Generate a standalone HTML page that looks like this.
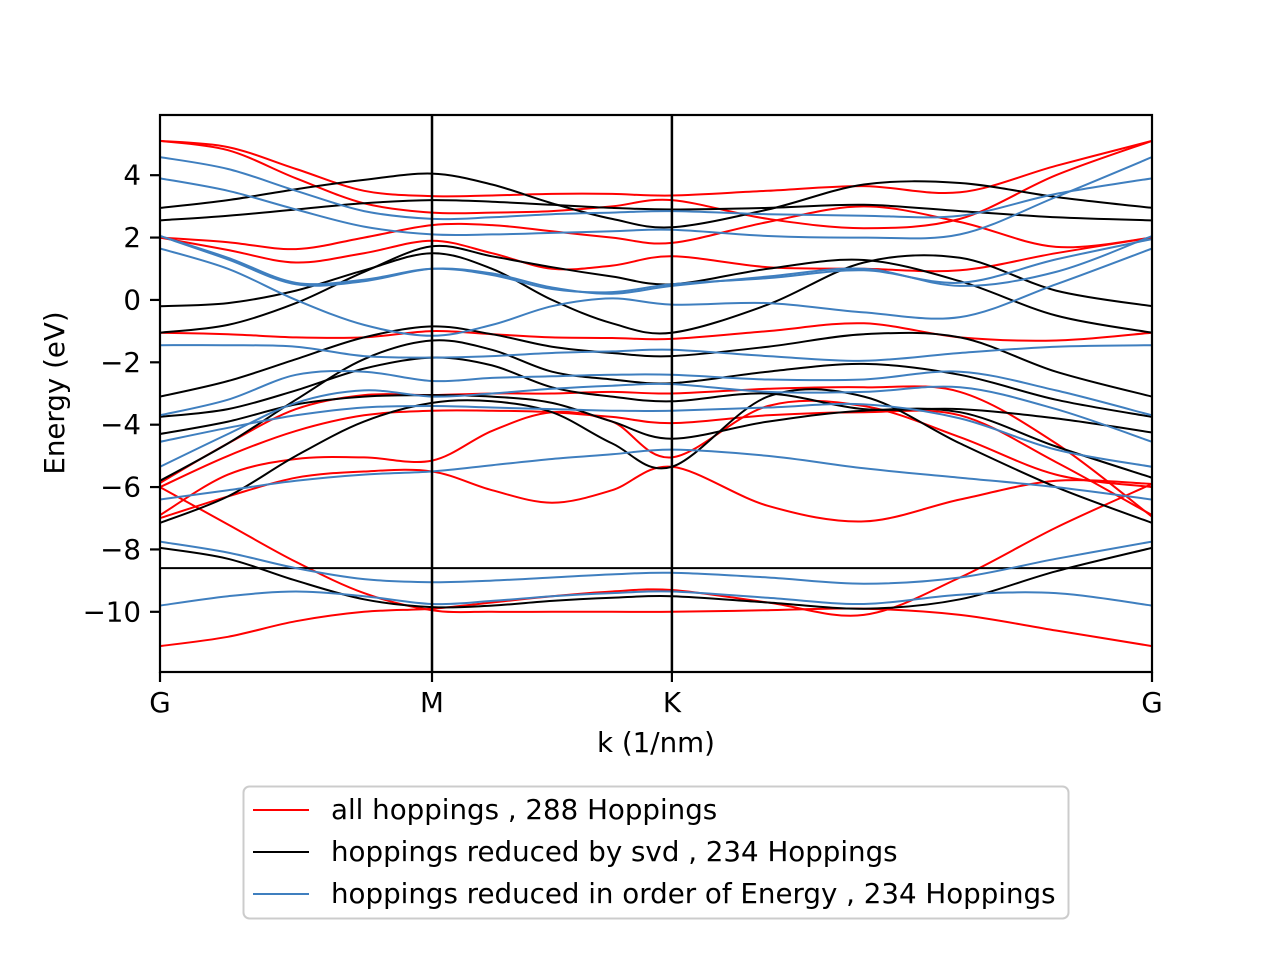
<!DOCTYPE html>
<html><head><meta charset="utf-8"><style>
html,body{margin:0;padding:0;background:#fff;}
svg{display:block;font-family:"DejaVu Sans","Liberation Sans",sans-serif;}
</style></head><body>
<svg id="chart" width="1280" height="960" viewBox="0 0 1280 960" xmlns="http://www.w3.org/2000/svg">
<rect width="1280" height="960" fill="#fff"/>
<g id="bands"></g>
<g id="axes"></g>
<g id="legend">
<rect x="243.5" y="786.5" width="825" height="132" rx="6" fill="#fff" fill-opacity="0.8" stroke="#cccccc" stroke-width="2"/>
<line x1="253" y1="810" x2="309" y2="810" stroke="#ff0000" stroke-width="2"/>
<text x="331" y="819" font-size="27.7" fill="#000">all hoppings , 288 Hoppings</text>
<line x1="253" y1="852" x2="309" y2="852" stroke="#000" stroke-width="2"/>
<text x="331" y="861" font-size="27.7" fill="#000">hoppings reduced by svd , 234 Hoppings</text>
<line x1="253" y1="894" x2="309" y2="894" stroke="#3f7fbf" stroke-width="2"/>
<text x="331" y="903" font-size="27.7" fill="#000">hoppings reduced in order of Energy , 234 Hoppings</text>
</g>
</svg>
<script>
// k sample points along path (G-M = 1 unit)
var kSamples = [0,0.25,0.5,0.75,1,1.2206,1.441,1.662,1.882,2.235,2.588,2.941,3.294,3.647];
var kTickPos = [0,1,1.882,3.647];
var kTickLabels = ["G","M","K","G"];
var eTicks = [4,2,0,-2,-4,-6,-8,-10];
var eTickLabels = ["4","2","0","\u22122","\u22124","\u22126","\u22128","\u221210"];

var redBands = [
[5.1,4.9,4.2,3.5,3.33,3.35,3.4,3.4,3.35,3.5,3.65,3.45,4.3,5.1],
[5.1,4.8,3.9,3.1,2.8,2.8,2.85,3.0,3.2,2.6,2.3,2.6,4.0,5.1],
[2.0,1.85,1.63,2.0,2.4,2.4,2.2,2.0,1.83,2.5,3.0,2.5,1.7,2.0],
[2.0,1.6,1.2,1.5,1.9,1.5,1.0,1.1,1.4,1.05,1.0,0.95,1.5,2.0],
[-1.05,-1.1,-1.2,-1.2,-1.0,-1.1,-1.2,-1.22,-1.25,-1.0,-0.75,-1.2,-1.3,-1.05],
[-5.87,-4.6,-3.5,-3.05,-3.05,-3.0,-3.0,-2.95,-3.0,-2.85,-2.8,-2.95,-4.6,-6.95],
[-6.0,-5.0,-4.2,-3.7,-3.55,-3.55,-3.6,-3.75,-3.95,-3.7,-3.6,-3.7,-5.2,-6.9],
[-6.9,-5.6,-5.1,-5.05,-5.15,-4.2,-3.6,-3.9,-5.05,-3.4,-3.4,-4.4,-5.6,-6.0],
[-7.0,-6.3,-5.7,-5.5,-5.5,-6.1,-6.5,-6.1,-5.35,-6.6,-7.1,-6.4,-5.8,-5.9],
[-6.0,-7.2,-8.4,-9.4,-9.95,-10.0,-10.0,-10.0,-10.0,-9.95,-9.9,-10.1,-10.6,-11.1],
[-11.1,-10.8,-10.3,-10.0,-9.9,-9.7,-9.5,-9.35,-9.3,-9.7,-10.1,-8.9,-7.3,-5.9]
];
var blackBands = [
[2.95,3.2,3.55,3.85,4.05,3.7,3.1,2.6,2.33,2.9,3.7,3.75,3.3,2.95],
[2.55,2.7,2.9,3.1,3.2,3.15,3.05,2.95,2.9,2.95,3.05,2.85,2.65,2.55],
[-0.2,-0.1,0.3,0.95,1.5,1.0,0.0,-0.75,-1.05,-0.15,1.2,1.35,0.3,-0.2],
[-1.05,-0.8,-0.1,0.9,1.72,1.4,1.05,0.75,0.5,1.0,1.28,0.6,-0.5,-1.05],
[-3.1,-2.6,-1.9,-1.2,-0.85,-1.1,-1.5,-1.7,-1.8,-1.5,-1.1,-1.2,-2.3,-3.1],
[-3.75,-3.5,-2.9,-2.2,-1.85,-2.1,-2.8,-3.1,-3.25,-3.0,-3.5,-3.5,-3.8,-4.25],
[-5.8,-4.6,-3.2,-1.9,-1.3,-1.6,-2.3,-2.55,-2.67,-2.3,-2.05,-2.4,-3.2,-3.75],
[-4.3,-3.9,-3.35,-3.1,-3.05,-3.1,-3.3,-3.9,-4.45,-3.9,-3.55,-3.6,-4.7,-5.7],
[-7.15,-6.3,-5.0,-3.9,-3.3,-3.25,-3.6,-4.6,-5.35,-3.1,-3.1,-4.6,-6.0,-7.15],
[-8.6,-8.6,-8.6,-8.6,-8.6,-8.6,-8.6,-8.6,-8.6,-8.6,-8.6,-8.6,-8.6,-8.6],
[-7.95,-8.3,-9.0,-9.6,-9.85,-9.8,-9.65,-9.55,-9.5,-9.7,-9.9,-9.6,-8.7,-7.95]
];
var blueBands = [
[4.58,4.2,3.5,2.85,2.6,2.65,2.75,2.8,2.85,2.75,2.7,2.7,3.4,3.9],
[3.9,3.5,2.9,2.35,2.1,2.1,2.15,2.2,2.25,2.05,2.0,2.1,3.3,4.58],
[2.05,1.3,0.5,0.6,1.0,0.85,0.4,0.2,0.45,0.75,1.0,0.45,0.9,2.05],
[2.05,1.35,0.55,0.65,1.0,0.8,0.35,0.25,0.5,0.7,0.95,0.55,1.3,1.95],
[1.65,1.0,0.0,-0.8,-1.15,-0.8,-0.2,0.05,-0.15,-0.1,-0.4,-0.55,0.5,1.65],
[-1.45,-1.45,-1.5,-1.8,-1.85,-1.8,-1.7,-1.65,-1.6,-1.8,-1.95,-1.7,-1.5,-1.45],
[-3.7,-3.2,-2.4,-2.3,-2.6,-2.5,-2.45,-2.4,-2.4,-2.55,-2.55,-2.3,-2.9,-3.7],
[-4.55,-4.1,-3.7,-3.45,-3.4,-3.45,-3.5,-3.55,-3.55,-3.45,-3.35,-3.8,-4.8,-5.35],
[-5.35,-4.3,-3.3,-2.9,-3.1,-3.0,-2.85,-2.75,-2.7,-2.95,-2.95,-2.8,-3.5,-4.55],
[-6.4,-6.1,-5.8,-5.6,-5.5,-5.3,-5.1,-4.95,-4.8,-5.0,-5.4,-5.7,-6.0,-6.4],
[-7.75,-8.1,-8.6,-8.95,-9.05,-9.0,-8.9,-8.8,-8.75,-8.9,-9.1,-8.9,-8.3,-7.75],
[-9.8,-9.5,-9.35,-9.5,-9.75,-9.65,-9.5,-9.4,-9.35,-9.55,-9.75,-9.45,-9.4,-9.8]
];

var X0=160,X1=1152,Y0=115,Y1=672,KMAX=3.647,EMIN=-11.93,EMAX=5.93;
function xs(k){return X0+(k/KMAX)*(X1-X0);}
function ys(e){return Y1-(e-EMIN)/(EMAX-EMIN)*(Y1-Y0);}
var NS="http://www.w3.org/2000/svg";
function mk(tag,attrs,parent){var el=document.createElementNS(NS,tag);for(var a in attrs)el.setAttribute(a,attrs[a]);parent.appendChild(el);return el;}

function pathFor(vals){
  var p=vals.map(function(v,i){return [xs(kSamples[i]),ys(v)];});
  var d="M"+p[0][0].toFixed(1)+","+p[0][1].toFixed(1);
  for(var i=0;i<p.length-1;i++){
    var p0=p[i>0?i-1:i],p1=p[i],p2=p[i+1],p3=p[i+2<p.length?i+2:i+1];
    var t=0.5/3*2;
    var c1x=p1[0]+(p2[0]-p0[0])*t/2,c1y=p1[1]+(p2[1]-p0[1])*t/2;
    var c2x=p2[0]-(p3[0]-p1[0])*t/2,c2y=p2[1]-(p3[1]-p1[1])*t/2;
    d+=" C"+c1x.toFixed(1)+","+c1y.toFixed(1)+" "+c2x.toFixed(1)+","+c2y.toFixed(1)+" "+p2[0].toFixed(1)+","+p2[1].toFixed(1);
  }
  return d;
}
var bandsG=document.getElementById('bands');
var clip=mk('clipPath',{id:'plotclip'},bandsG);
mk('rect',{x:X0,y:Y0,width:X1-X0,height:Y1-Y0},clip);
bandsG.setAttribute('clip-path','url(#plotclip)');
function drawSet(set,color,name){
  set.forEach(function(b,i){
    var el=mk('path',{d:pathFor(b),fill:'none',stroke:color,'stroke-width':2},bandsG);
    
    
  });
}
drawSet(redBands,'#ff0000','all-hoppings');
drawSet(blackBands,'#000000','svd');
drawSet(blueBands,'#3f7fbf','energy-order');

var ax=document.getElementById('axes');
kTickPos.forEach(function(k,i){
  if(i>0&&i<kTickPos.length-1){
    var l=mk('line',{x1:xs(k),x2:xs(k),y1:Y0,y2:Y1,stroke:'#000','stroke-width':2.5},ax);
    
    
  }
});
var frame=mk('rect',{x:X0,y:Y0,width:X1-X0,height:Y1-Y0,fill:'none',stroke:'#000','stroke-width':2.2},ax);


eTicks.forEach(function(e,i){
  var y=ys(e);
  var t=mk('line',{x1:X0-10,x2:X0,y1:y,y2:y,stroke:'#000','stroke-width':2.2},ax);
  
  
  var tx=mk('text',{x:X0-19,y:y+9.5,'text-anchor':'end','font-size':27.7,fill:'#000'},ax);
  tx.textContent=eTickLabels[i];
  
  
});
kTickPos.forEach(function(k,i){
  var x=xs(k);
  var t=mk('line',{x1:x,x2:x,y1:Y1,y2:Y1+10,stroke:'#000','stroke-width':2.2},ax);
  
  
  var tx=mk('text',{x:x,y:712,'text-anchor':'middle','font-size':27.7,fill:'#000'},ax);
  tx.textContent=kTickLabels[i];
  
  
});
var xl=mk('text',{x:656,y:752,'text-anchor':'middle','font-size':27.7,fill:'#000'},ax);
xl.textContent='k (1/nm)';


var yl=mk('text',{x:0,y:0,'text-anchor':'middle','font-size':27.7,fill:'#000',transform:'translate(64,393) rotate(-90)'},ax);
yl.textContent='Energy (eV)';


</script>
</body></html>
